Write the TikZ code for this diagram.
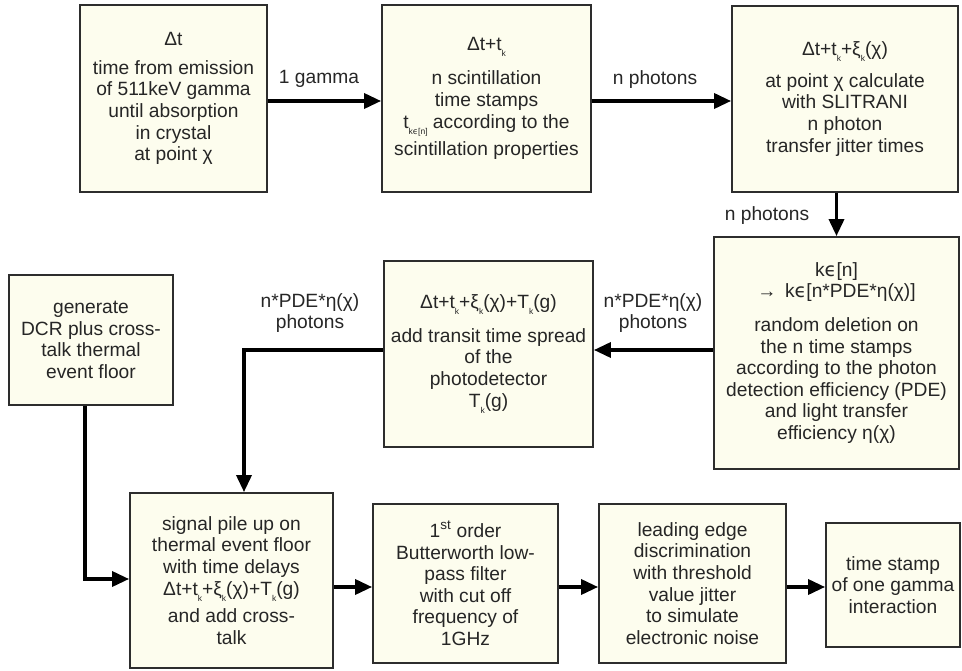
\documentclass[tikz,border=0pt]{standalone}
\usepackage{fontspec}
\setmainfont{Liberation Sans}
\newfontfamily\djv{DejaVu Sans}
\usetikzlibrary{arrows.meta,calc}
\definecolor{boxfill}{RGB}{253,253,238}
\definecolor{boxline}{RGB}{45,45,45}
\definecolor{ink}{RGB}{38,38,38}
% small, strongly lowered subscript
\newcommand\lowsub[1]{\raisebox{-6pt}{\fontsize{8.5}{8.5}\selectfont #1}}
\newcommand\lep{{\djv ϵ}}
\begin{document}
\begin{tikzpicture}[x=1pt,y=-1pt,
  every node/.style={font=\fontsize{19.2}{21.6}\selectfont, text=ink},
  stage/.style={draw=boxline, line width=1.8pt, fill=boxfill, inner sep=0pt, align=center},
  flow/.style={line width=3.4pt, -{Triangle[length=17pt,width=15pt]}},
  lbl/.style={align=center, inner sep=0pt}]
\useasboundingbox (0,0) rectangle (962,671);

% top row
\node[stage, minimum width=187pt, minimum height=187pt] (b1) at (173.5,98.5)
  {Δt\\[7pt]time from emission\\of 511keV gamma\\until absorption\\in crystal\\at point χ};
\node[stage, minimum width=209pt, minimum height=187pt] (b2) at (486.5,98.5)
  {Δt+t\lowsub{k}\\[13pt]n scintillation\\time stamps\\t\lowsub{k\lep[n]} according to the\\[5pt]scintillation properties};
\node[stage, minimum width=226pt, minimum height=186pt] (b3) at (845,99)
  {Δt+t\lowsub{k}+ξ\lowsub{k}(χ)\\[10pt]at point χ calculate\\with SLITRANI\\n photon\\transfer jitter times};

% middle row
\node[stage, minimum width=245pt, minimum height=232pt] (b4) at (836.5,353)
  {k\lep[n]\\→\, k\lep[n*PDE*η(χ)]\\[12pt]random deletion on\\the n time stamps\\according to the photon\\detection efficiency (PDE)\\and light transfer\\efficiency η(χ)};
\node[stage, minimum width=209pt, minimum height=186pt] (b5) at (488.5,354)
  {Δt+t\lowsub{k}+ξ\lowsub{k}(χ)+T\lowsub{k}(g)\\[12pt]add transit time spread\\of the\\photodetector\\T\lowsub{k}(g)};
\node[stage, minimum width=164pt, minimum height=130pt] (b6) at (91,340)
  {generate\\DCR plus cross-\\talk thermal\\event floor};

% bottom row
\node[stage, minimum width=203pt, minimum height=175pt] (b7) at (231.5,580.5)
  {signal pile up on\\thermal event floor\\with time delays\\Δt+t\lowsub{k}+ξ\lowsub{k}(χ)+T\lowsub{k}(g)\\[6pt]and add cross-\\talk};
\node[stage, minimum width=185pt, minimum height=159pt] (b8) at (465.5,583.5)
  {1\textsuperscript{st} order\\Butterworth low-\\pass filter\\with cut off\\frequency of\\1GHz};
\node[stage, minimum width=187pt, minimum height=159pt] (b9) at (692.5,583.5)
  {leading edge\\discrimination\\with threshold\\value jitter\\to simulate\\electronic noise};
\node[stage, minimum width=134pt, minimum height=124pt] (b10) at (893,585)
  {time stamp\\of one gamma\\interaction};

% bend points and row heights for connectors
\coordinate (r1) at (0,101);
\coordinate (r2) at (0,350);
\coordinate (c5) at (244,350);
\coordinate (c6) at (85,579);
\coordinate (r3) at (0,587);

% connectors
\draw[flow] (b1.east |- r1) -- (b2.west |- r1);
\draw[flow] (b2.east |- r1) -- (b3.west |- r1);
\draw[flow] (b3.south -| b4.north) -- (b4.north);
\draw[flow] (b4.west |- r2) -- (b5.east |- r2);
\draw[flow] (b5.west |- r2) -- (c5) -- (c5 |- b7.north);
\draw[flow] (b6.south -| c6) -- (c6) -- (c6 -| b7.west);
\draw[flow] (b7.east |- r3) -- (b8.west |- r3);
\draw[flow] (b8.east |- r3) -- (b9.west |- r3);
\draw[flow] (b9.east |- r3) -- (b10.west |- r3);

% connector labels
\node[lbl, anchor=base] (l1) at (319,84) {1 gamma};
\node[lbl, anchor=base] (l2) at (655,85) {n photons};
\node[lbl, anchor=base] (l3) at (767,221) {n photons};
\node[lbl] (l4) at (653,313) {n*PDE*η(χ)\\photons};
\node[lbl] (l5) at (310,313) {n*PDE*η(χ)\\photons};
\end{tikzpicture}
\end{document}
